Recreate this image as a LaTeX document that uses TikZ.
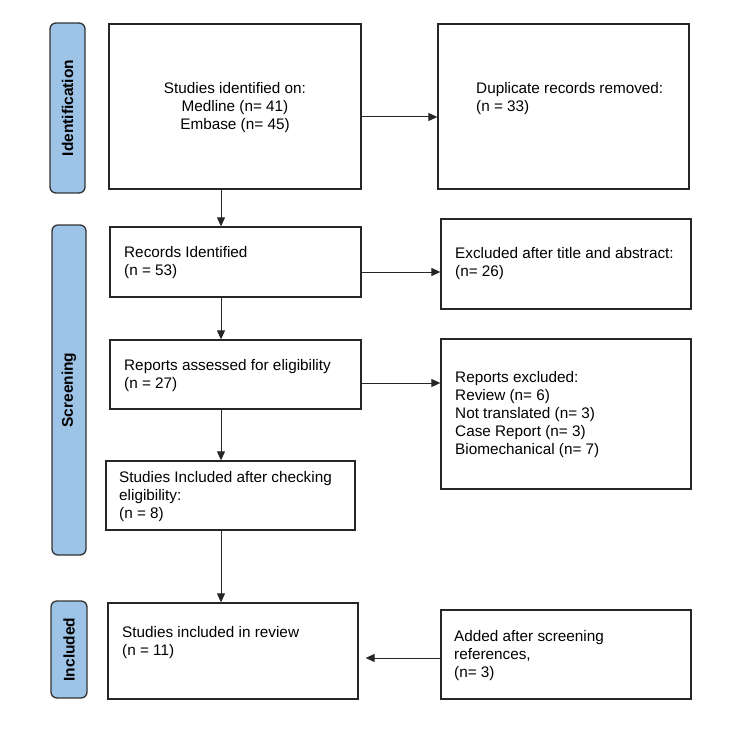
\documentclass[tikz,border=0pt]{standalone}
\usepackage{fontspec}
\setmainfont{Liberation Sans}
\usetikzlibrary{arrows.meta}
\definecolor{pillblue}{RGB}{157,195,230}
\begin{document}
\begin{tikzpicture}[x=1pt,y=-1pt,
  box/.style={draw=black!85, line width=1.3pt, inner sep=0pt, fill=white},
  pill/.style={draw=black!80, line width=1.3pt, fill=pillblue, rounded corners=6pt, inner sep=0pt},
  pilltext/.style={rotate=90, font=\fontsize{15.5}{18}\selectfont\bfseries, inner sep=0pt},
  txt/.style={anchor=west, align=left, inner sep=0pt, font=\fontsize{15.3}{18}\selectfont},
  ctxt/.style={align=center, inner sep=0pt, font=\fontsize{15.3}{18}\selectfont},
  arr/.style={draw=black!85, line width=1pt, -{Triangle[length=9pt,width=8pt]}}
]
\useasboundingbox (0,0) rectangle (750,749);
% phase pills
\node[pill, minimum width=35pt, minimum height=170pt] (pid) at (67.5,108) {};
\node[pilltext] (tid) at (pid.center) {Identification};
\node[pill, minimum width=34pt, minimum height=330pt] (pscr) at (69,390) {};
\node[pilltext] (tscr) at (pscr.center) {Screening};
\node[pill, minimum width=36pt, minimum height=97pt] (pinc) at (69,649.5) {};
\node[pilltext] (tinc) at (pinc.center) {Included};
% boxes
\node[box, minimum width=252pt, minimum height=165pt] (b1) at (235,106.5) {};
\node[ctxt] (t1) at (235,108) {Studies identified on:\\Medline (n= 41)\\Embase (n= 45)};
\node[box, minimum width=251pt, minimum height=165pt] (dup) at (563.5,106.5) {};
\node[txt] (tdup) at (476,98.5) {Duplicate records removed:\\(n = 33)};
\node[box, minimum width=251pt, minimum height=70pt] (rec) at (235.5,262) {};
\node[txt] (trec) at (124,263) {Records Identified\\(n = 53)};
\node[box, minimum width=250pt, minimum height=90pt] (excl) at (566,264) {};
\node[txt] (texcl) at (455,264) {Excluded after title and abstract:\\(n= 26)};
\node[box, minimum width=251pt, minimum height=69pt] (rep) at (235.5,374.5) {};
\node[txt] (trep) at (124,376) {Reports assessed for eligibility\\(n = 27)};
\node[box, minimum width=250pt, minimum height=150pt] (repx) at (566,414) {};
\node[txt] (trepx) at (455,414.5) {Reports excluded:\\Review (n= 6)\\Not translated (n= 3)\\Case Report (n= 3)\\Biomechanical (n= 7)};
\node[box, minimum width=249pt, minimum height=69pt] (stu) at (230.5,495.5) {};
\node[txt] (tstu) at (119,496.5) {Studies Included after checking\\eligibility:\\(n = 8)};
\node[box, minimum width=250pt, minimum height=96pt] (inc) at (233,651) {};
\node[txt] (tinc2) at (122,643) {Studies included in review\\(n = 11)};
\node[box, minimum width=250pt, minimum height=89pt] (add) at (566,654.5) {};
\node[txt] (tadd) at (454,656) {Added after screening\\references,\\(n= 3)};
% helper coordinates for connector lines
\coordinate (ax) at (221,0);
\coordinate (y1) at (0,117);
\coordinate (y2) at (0,272);
\coordinate (y3) at (0,383);
\coordinate (y4) at (0,658);
% vertical arrows
\draw[arr] (b1.south -| ax) -- (rec.north -| ax);
\draw[arr] (rec.south -| ax) -- (rep.north -| ax);
\draw[arr] (rep.south -| ax) -- (stu.north -| ax);
\draw[arr] (stu.south -| ax) -- (inc.north -| ax);
% horizontal arrows
\draw[arr] (b1.east |- y1) -- (dup.west |- y1);
\draw[arr] (rec.east |- y2) -- (excl.west |- y2);
\draw[arr] (rep.east |- y3) -- (repx.west |- y3);
\draw[arr, shorten >=7pt] (add.west |- y4) -- (inc.east |- y4);
\end{tikzpicture}
\end{document}
